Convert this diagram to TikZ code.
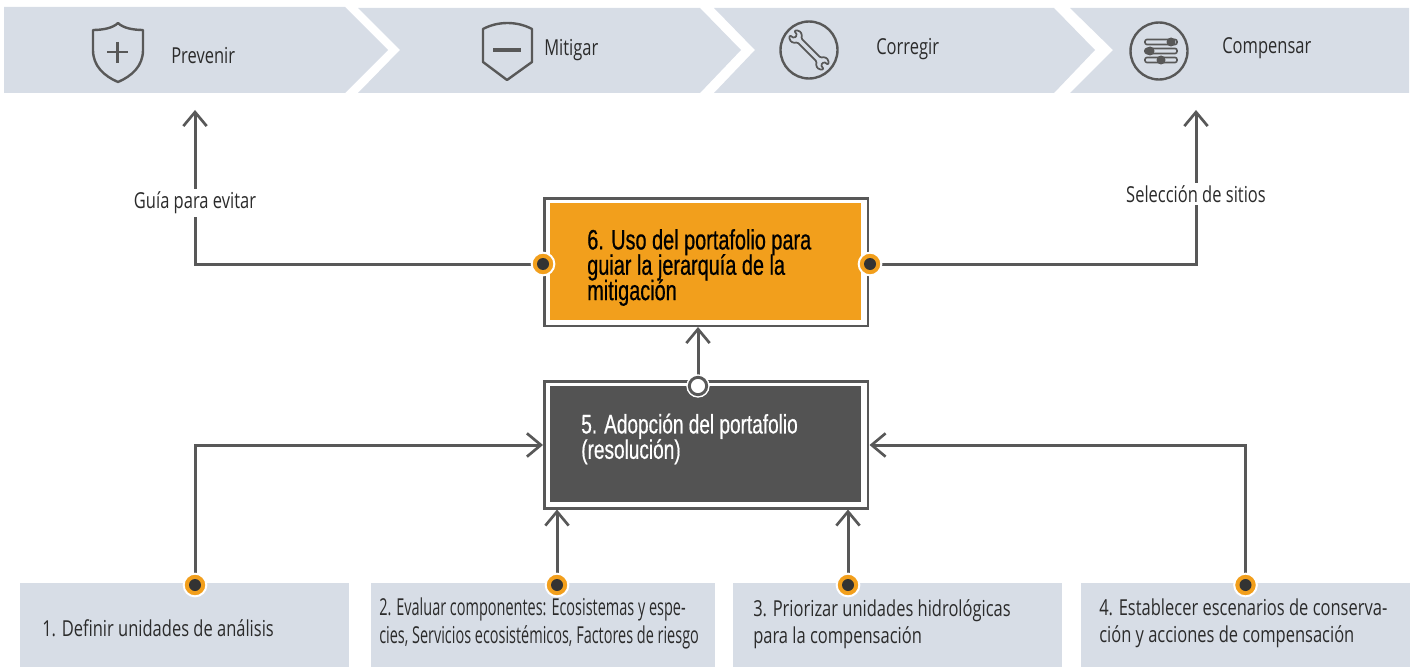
\documentclass[tikz,border=0pt]{standalone}
\usepackage{fontspec}
\usetikzlibrary{arrows.meta}
\setmainfont{Open Sans}
\newfontfamily\lightcond[FakeStretch=0.75]{Open Sans}
\newfontfamily\tightcond[FakeStretch=0.62]{Open Sans}
\newfontfamily\headcond[FakeStretch=0.71,FakeBold=0.6]{Liberation Sans}
\definecolor{barblue}{HTML}{D7DDE6}
\definecolor{linegray}{HTML}{585858}
\definecolor{boxorange}{HTML}{F29F1C}
\definecolor{boxdark}{HTML}{535353}
\definecolor{dotdark}{HTML}{333333}
\definecolor{txt}{HTML}{2B2B2B}
\tikzset{
  x=0.75pt,y=-0.75pt,
  bar/.style={fill=barblue,draw=none},
  icon/.style={draw=linegray,line width=1.8pt,fill=none,line join=round},
  label/.style={font=\lightcond\fontsize{16.5}{20.5}\selectfont\lineskiplimit-100pt\relax,text=txt,inner sep=0pt,align=left},
  tightlabel/.style={font=\tightcond\fontsize{17.5}{21}\selectfont\lineskiplimit-100pt\relax,text=txt,inner sep=0pt,align=left},
  midlabel/.style={label,fill=white,inner sep=2pt},
  frame/.style={draw=linegray,line width=2.2pt,fill=white,outer sep=0pt,inner sep=0pt,anchor=north west},
  heading/.style={font=\headcond\fontsize{21}{19}\selectfont\lineskiplimit-100pt\relax,inner sep=0pt,align=left},
  smallheading/.style={font=\headcond\fontsize{20.1}{19}\selectfont\lineskiplimit-100pt\relax,inner sep=0pt,align=left},
  conn/.style={draw=linegray,line width=2.25pt,-{Straight Barb[length=10.5pt,width=17.5pt,line width=2pt]}},
  dotring/.style={circle,fill=boxorange,draw=white,line width=1.5pt,minimum size=17pt,inner sep=0pt},
  dotcore/.style={circle,fill=dotdark,minimum size=9pt,inner sep=0pt},
  hollow/.style={circle,fill=white,draw=linegray,line width=2.2pt,minimum size=13pt,inner sep=0pt},
  halo/.style={circle,fill=white,minimum size=17.5pt,inner sep=0pt},
  basebox/.style={bar,inner sep=0pt,anchor=north west},
}
\newcommand{\boxat}[6]{\node[basebox,minimum width=#4*0.75pt,minimum height=#5*0.75pt] (#1) at (#2,#3) {};}
\newcommand{\dotat}[3]{%
  \node[dotring] (#1) at (#2,#3) {};
  \node[dotcore] (#1c) at (#2,#3) {};}
\begin{document}
\begin{tikzpicture}
\useasboundingbox (0,0) rectangle (1411,667);
% top chevrons
\path[bar] (4,7) -- (345,7) -- (388,50) -- (345,93) -- (4,93) -- cycle;
\path[bar] (358,8) -- (700,8) -- (741,50) -- (700,93) -- (358,93) -- (400,50) -- cycle;
\path[bar] (714,8) -- (1054,8) -- (1095,50) -- (1054,93) -- (714,93) -- (755,50) -- cycle;
\path[bar] (1070,8) -- (1409,8) -- (1409,93) -- (1070,93) -- (1113,50) -- cycle;
% titles
\node[label,anchor=base west] (t1) at (171,64) {Prevenir};
\node[label,anchor=base west] (t2) at (544,56) {Mitigar};
\node[label,anchor=base west] (t3) at (876,55) {Corregir};
\node[label,anchor=base west] (t4) at (1222,54) {Compensar};
% shield plus
\draw[icon] (118,23) .. controls (113,28) and (103,30) .. (93,30)
  -- (93,50) .. controls (93,66) and (104,76) .. (118,82)
  .. controls (132,76) and (143,66) .. (143,50) -- (143,30)
  .. controls (133,30) and (123,28) .. (118,23) -- cycle;
\draw[icon] (107,52) -- (128,52) (117.5,42) -- (117.5,63);
% shield minus
\draw[icon] (483,29) .. controls (498,21) and (517,21) .. (532,29) -- (532,62) -- (507,80) -- (483,62) -- cycle;
\draw[icon,line width=3pt] (493,50) -- (521,50);
% wrench
\draw[icon] (809,50) circle (28.5);
\begin{scope}[shift={(809,50)},rotate=-45,scale=0.9]
\draw[draw=linegray,line width=1.3pt,rounded corners=1pt,line join=round]
  (-15,3) -- (-18,7) -- (-23,7.5) -- (-27,3.5) -- (-21,2.5) -- (-21,-2.5) -- (-27,-3.5) -- (-23,-7.5) -- (-18,-7) -- (-15,-3)
  -- (15,-3) -- (18,-7) -- (23,-7.5) -- (27,-3.5) -- (21,-2.5) -- (21,2.5) -- (27,3.5) -- (23,7.5) -- (18,7) -- (15,3) -- cycle;
\end{scope}
% sliders
\draw[icon] (1159,51) circle (28.5);
\foreach \yy/\kx in {42/1171,51/1150,60/1161}{
  \draw[draw=linegray,line width=1.2pt,rounded corners=1.5pt] (1145,\yy-2.5) rectangle (1177,\yy+2.5);
  \fill[linegray] (\kx,\yy) circle (4.5);
}
% central boxes
\node[frame,minimum width=242.6pt,minimum height=95.6pt] (box6) at (544.5,198.5) {};
\node[fill=boxorange,minimum width=233.25pt,minimum height=87.75pt,inner sep=0pt,anchor=north west] (box6in) at (550,203) {};
\node[heading,text=black,anchor=west] (text6) at (587,267.5) {6. Uso del portafolio para\\guiar la jerarquía de la\\mitigación};
\node[frame,minimum width=242.6pt,minimum height=95.25pt] (box5) at (544.5,381.5) {};
\node[fill=boxdark,minimum width=233.25pt,minimum height=87pt,inner sep=0pt,anchor=north west] (box5in) at (550,386) {};
\node[smallheading,text=white,anchor=west] (text5) at (581,439) {5. Adopción del portafolio\\(resolución)};
% bottom boxes
\boxat{b1}{20}{583}{329}{84}{}
\boxat{b2}{371}{583}{344}{84}{}
\boxat{b3}{733}{583}{329}{84}{}
\boxat{b4}{1081}{583}{329}{84}{}
\node[label,anchor=base west] (l1) at (42,636) {1. Definir unidades de análisis};
\node[tightlabel,anchor=west] (l2) at (379,623) {2. Evaluar componentes: Ecosistemas y espe-\\cies, Servicios ecosistémicos, Factores de riesgo};
\node[label,anchor=west] (l3) at (753,624) {3. Priorizar unidades hidrológicas\\para la compensación};
\node[label,anchor=west] (l4) at (1099,623) {4. Establecer escenarios de conserva-\\ción y acciones de compensación};
% anchors
\coordinate (up1) at (195,264);
\coordinate (up1end) at (195,110);
\coordinate (up2) at (1196,264);
\coordinate (up2end) at (1196,110);
\coordinate (in1) at (195,445);
\coordinate (in1end) at (543,445);
\coordinate (in4) at (1245.5,445);
\coordinate (in4end) at (869.5,445);
\coordinate (dot5pos) at (698,386);
\coordinate (end65) at (698,327);
\coordinate (end2) at (557,509.5);
\coordinate (end3) at (848,509.5);
\coordinate (d6l) at (543,264);
\coordinate (d6r) at (870,264);
\coordinate (d1) at (195,585);
\coordinate (d2) at (557,585);
\coordinate (d3) at (848,585);
\coordinate (d4) at (1245.5,585);
% connectors
\draw[conn] (d6l) -- (up1) -- (up1end);
\draw[conn] (d6r) -- (up2) -- (up2end);
\draw[conn] (d1) -- (in1) -- (in1end);
\draw[conn] (d2) -- (end2);
\draw[conn] (d3) -- (end3);
\draw[conn] (d4) -- (in4) -- (in4end);
\draw[conn] (dot5pos) -- (end65);
% connector labels
\node[midlabel] (guia) at (195,203) {Guía para evitar};
\node[midlabel] (seleccion) at (1196,194) {Selección de sitios};
% dots
\dotat{dA}{543}{264}
\dotat{dB}{870}{264}
\dotat{dC}{195}{585}
\dotat{dD}{557}{585}
\dotat{dE}{848}{585}
\dotat{dF}{1245.5}{585}
\node[halo] (haloG) at (698,386) {};
\node[hollow] (dG) at (698,386) {};
\end{tikzpicture}
\end{document}
